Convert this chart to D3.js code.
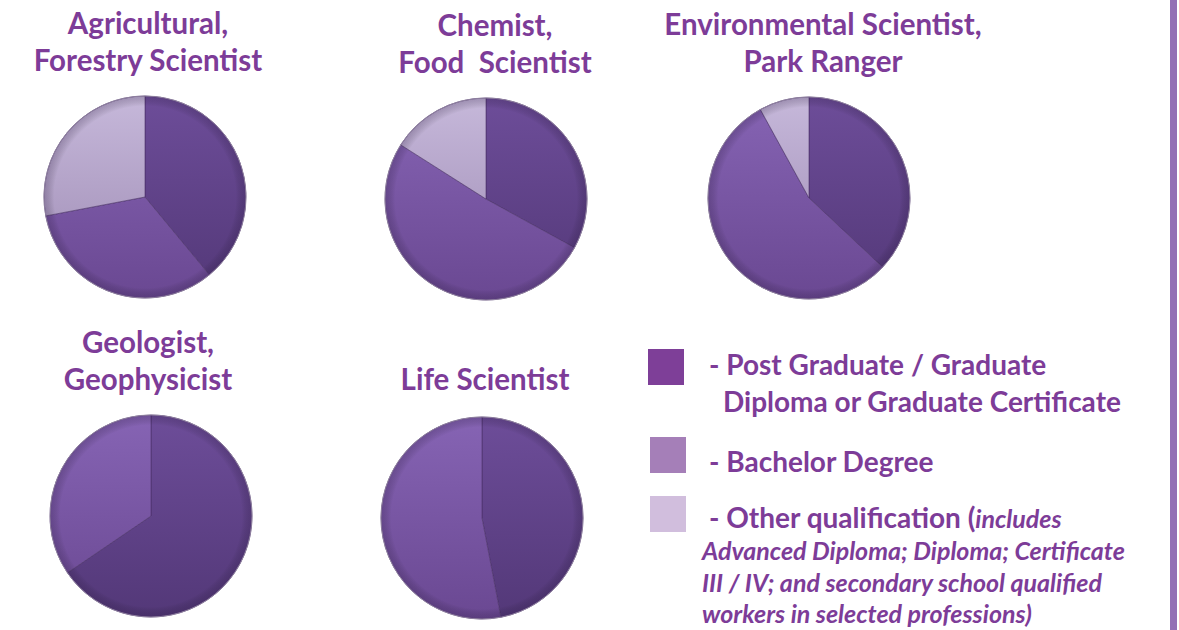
<!DOCTYPE html>
<html>
<head>
<meta charset="utf-8">
<script src="https://cdn.jsdelivr.net/npm/d3@7"></script>
<style>
  body { margin: 0; background: #fff; }
  svg { display: block; }
  text { font-family: Lato, "Open Sans", sans-serif; font-weight: bold; fill: #7d3c98; white-space: pre; }
</style>
</head>
<body>
<svg id="chart" width="1179" height="630"></svg>
<script>
// occupation groups, title lines for each pie
const occupations = [
    ["Agricultural,", "Forestry Scientist"],
    ["Chemist,", "Food  Scientist"],
    ["Environmental Scientist,", "Park Ranger"],
    ["Geologist,", "Geophysicist"],
    ["Life Scientist"]
];
// share of workers (%) by highest qualification
const postGraduate = [39, 33, 37, 65.5, 47];
const bachelor     = [33, 51, 55, 34.5, 53];
const other        = [28, 16, 8, 0, 0];

const qualifications = ["Post Graduate", "Bachelor", "Other"];

let svg = d3.select("#chart");
let defs = svg.append("defs");

// pie layout: centre of each pie
let centres = [[145, 197], [486, 199], [809, 198], [151, 516], [482, 518]];
let titleX = [148, 495, 823, 148, 485];
let radius = 101;

let sliceTop = ["#6d4d99", "#8664b4", "#c6b8da"];
let sliceBottom = ["#533878", "#6a4892", "#9c89b2"];

qualifications.forEach(function(q, i) {
    let grad = defs.append("linearGradient")
        .attr("id", "grad" + i)
        .attr("gradientUnits", "userSpaceOnUse")
        .attr("x1", 0).attr("y1", -radius)
        .attr("x2", 0).attr("y2", radius);
    grad.append("stop").attr("offset", "0%").attr("stop-color", sliceTop[i]);
    grad.append("stop").attr("offset", "100%").attr("stop-color", sliceBottom[i]);
});

let edge = defs.append("radialGradient").attr("id", "edge");
edge.append("stop").attr("offset", "90%").attr("stop-color", "#000").attr("stop-opacity", 0);
edge.append("stop").attr("offset", "100%").attr("stop-color", "#2a1840").attr("stop-opacity", 0.25);

let pie = d3.pie().sort(null).value(d => d);
let arc = d3.arc().innerRadius(0).outerRadius(radius);

occupations.forEach(function(lines, k) {
    let values = [postGraduate[k], bachelor[k], other[k]];
    let g = svg.append("g")
        .attr("transform", "translate(" + centres[k][0] + "," + centres[k][1] + ")");

    g.selectAll("path.slice")
        .data(pie(values).filter(d => d.value > 0))
        .enter()
        .append("path")
            .attr("class", "slice")
            .attr("d", arc)
            .style("fill", d => "url(#grad" + d.index + ")")
            .style("stroke", "#4a3168")
            .style("stroke-width", 1)
            .style("stroke-opacity", 0.6);

    g.append("circle")
        .attr("r", radius)
        .style("fill", "url(#edge)")
        .style("stroke", "#8f80a0")
        .style("stroke-width", 1);

    // title above the pie
    let firstBaseline = lines.length == 2 ? -radius - 62 : -radius - 27;
    g.selectAll("text.title")
        .data(lines)
        .enter()
        .append("text")
            .attr("class", "title")
            .attr("x", titleX[k] - centres[k][0])
            .attr("y", (d, i) => firstBaseline + i * 37)
            .attr("text-anchor", "middle")
            .style("font-size", "29.5px")
            .text(d => d);
});

// legend
let legendColors = ["#7e3f98", "#a57fb8", "#d1bedd"];
let legendY = [349, 437, 496];
svg.selectAll("rect.key")
    .data(qualifications)
    .enter()
    .append("rect")
        .attr("class", "key")
        .attr("x", (d, i) => i == 0 ? 648 : 650)
        .attr("y", (d, i) => legendY[i])
        .attr("width", 36)
        .attr("height", 36)
        .style("fill", (d, i) => legendColors[i]);

let big = "28px", small = "25px";
svg.append("text").attr("x", 709).attr("y", 375).style("font-size", big)
    .text("- Post Graduate / Graduate");
svg.append("text").attr("x", 723).attr("y", 412).style("font-size", big)
    .text("Diploma or Graduate Certificate");
svg.append("text").attr("x", 709).attr("y", 472).style("font-size", big)
    .text("- Bachelor Degree");
let oq = svg.append("text").attr("x", 709).attr("y", 528).style("font-size", big);
oq.append("tspan").text("- Other qualification (");
oq.append("tspan").style("font-style", "italic").style("font-size", small).text("includes");

let italicLines = ["Advanced Diploma; Diploma; Certificate",
                   "III / IV; and secondary school qualified",
                   "workers in selected professions)"];
svg.selectAll("text.note")
    .data(italicLines)
    .enter()
    .append("text")
        .attr("class", "note")
        .attr("x", 702)
        .attr("y", (d, i) => 560 + i * 31.5)
        .style("font-size", small)
        .style("font-style", "italic")
        .text(d => d);

// side rule
svg.append("rect")
    .attr("x", 1170).attr("y", 0)
    .attr("width", 7).attr("height", 630)
    .style("fill", "#9370b5");
</script>
</body>
</html>
